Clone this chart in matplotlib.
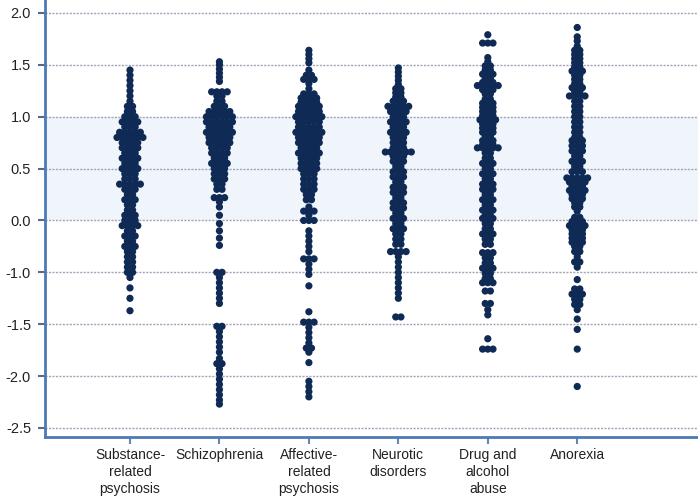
import numpy as np
import matplotlib
matplotlib.use("Agg")
import matplotlib.pyplot as plt

plt.rcParams['font.family'] = ['Liberation Sans Narrow', 'Liberation Sans', 'DejaVu Sans']

categories = ["Substance-\nrelated\npsychosis", "Schizophrenia", "Affective-\nrelated\npsychosis",
              "Neurotic\ndisorders", "Drug and\nalcohol\nabuse", "Anorexia"]

ytick_pos = [2.0, 1.5, 1.0, 0.5, 0.0, -0.5, -1.0, -1.5, -2.0]
ytick_labels = ["2.0", "1.5", "1.0", "0.5", "0.0", "-1.0", "-1.5", "-2.0", "-2.5"]

# Substance-related psychosis: value levels and number of dots side by side
sub_levels = [1.45, 1.40, 1.35, 1.30, 1.25, 1.20, 1.15, 1.10, 1.05, 1.00, 0.95, 0.90, 0.85, 0.80, 0.75,
              0.70, 0.65, 0.60, 0.55, 0.50, 0.45, 0.40, 0.35, 0.30, 0.25, 0.20, 0.15, 0.10, 0.05, 0.00,
              -0.05, -0.10, -0.15, -0.20, -0.25, -0.30, -0.35, -0.40, -0.45, -0.50, -0.55, -0.65, -0.75, -0.87]
sub_counts = [1, 1, 1, 1, 1, 1, 1, 2, 2, 3, 4, 3, 5, 6, 4,
              4, 3, 4, 3, 4, 3, 3, 5, 3, 2, 3, 2, 2, 3, 3,
              4, 2, 3, 2, 3, 2, 2, 2, 2, 2, 1, 1, 1, 1]

sch_levels = [1.53, 1.50, 1.46, 1.42, 1.38, 1.34, 1.24, 1.20, 1.15, 1.10, 1.05, 1.00, 0.95, 0.90, 0.85,
              0.80, 0.75, 0.70, 0.65, 0.60, 0.55, 0.50, 0.45, 0.40, 0.35, 0.30, 0.22, 0.18, 0.13, 0.05,
              -0.03, -0.10, -0.17, -0.24, -0.50, -0.55, -0.60, -0.65, -0.70, -0.75, -0.80, -1.02, -1.07,
              -1.12, -1.17, -1.22, -1.27, -1.33, -1.38, -1.43, -1.48, -1.53, -1.58, -1.63, -1.68, -1.73, -1.77]
sch_counts = [1, 1, 1, 1, 1, 1, 4, 2, 2, 3, 5, 6, 6, 5, 6,
              5, 5, 4, 4, 3, 4, 3, 3, 3, 2, 2, 3, 1, 1, 1,
              1, 1, 1, 1, 2, 1, 1, 1, 1, 1, 1, 2, 1,
              1, 1, 1, 1, 1, 2, 1, 1, 1, 1, 1, 1, 1, 1]

aff_levels = [1.64, 1.60, 1.56, 1.52, 1.45, 1.40, 1.36, 1.32, 1.27, 1.22, 1.18, 1.14, 1.10, 1.05, 1.00,
              0.95, 0.90, 0.85, 0.80, 0.75, 0.70, 0.65, 0.60, 0.55, 0.50, 0.45, 0.40, 0.35, 0.30, 0.25,
              0.20, 0.13, 0.09, 0.05, 0.00, -0.10, -0.15, -0.20, -0.25, -0.30, -0.37, -0.42, -0.47, -0.52,
              -0.63, -0.88, -0.98, -1.03, -1.08, -1.13, -1.18, -1.23, -1.27, -1.37, -1.55, -1.60, -1.65, -1.70]
aff_counts = [1, 1, 1, 1, 1, 2, 3, 1, 1, 3, 4, 4, 5, 5, 6,
              5, 5, 6, 5, 5, 4, 5, 4, 4, 4, 3, 3, 3, 3, 2,
              2, 1, 3, 1, 3, 1, 1, 1, 1, 1, 3, 1, 1, 1,
              1, 1, 3, 1, 1, 1, 1, 2, 1, 1, 1, 1, 1, 1]

neu_levels = [1.47, 1.43, 1.39, 1.35, 1.31, 1.27, 1.23, 1.19, 1.15, 1.10, 1.05, 1.00, 0.95, 0.90, 0.85,
              0.80, 0.75, 0.70, 0.66, 0.62, 0.57, 0.52, 0.47, 0.42, 0.37, 0.32, 0.27, 0.22, 0.17, 0.12,
              0.07, 0.02, -0.03, -0.08, -0.13, -0.18, -0.23, -0.30, -0.35, -0.40, -0.45, -0.50, -0.55,
              -0.60, -0.65, -0.70, -0.75, -0.93]
neu_counts = [1, 1, 1, 1, 1, 2, 2, 2, 3, 5, 4, 3, 4, 3, 4,
              3, 3, 3, 6, 3, 3, 2, 3, 3, 2, 3, 3, 2, 3, 3,
              2, 3, 2, 3, 2, 2, 2, 4, 1, 1, 1, 1, 1,
              1, 1, 1, 1, 2]

drg_levels = [1.79, 1.71, 1.57, 1.53, 1.49, 1.45, 1.41, 1.37, 1.33, 1.30, 1.26, 1.22, 1.17, 1.13, 1.09,
              1.05, 1.01, 0.97, 0.93, 0.89, 0.85, 0.81, 0.77, 0.73, 0.70, 0.65, 0.60, 0.55, 0.50, 0.45,
              0.40, 0.35, 0.30, 0.25, 0.20, 0.15, 0.10, 0.05, 0.02, -0.03, -0.08, -0.13, -0.18, -0.23,
              -0.31, -0.36, -0.41, -0.46, -0.51, -0.56, -0.60, -0.68, -0.80, -0.86, -0.91, -1.14, -1.24]
drg_counts = [1, 3, 1, 1, 2, 2, 3, 2, 3, 5, 3, 2, 2, 3, 3,
              3, 3, 4, 3, 3, 3, 2, 3, 3, 5, 2, 2, 3, 2, 3,
              2, 3, 3, 2, 3, 2, 3, 2, 3, 2, 2, 3, 2, 2,
              3, 2, 2, 3, 2, 2, 3, 2, 2, 1, 1, 1, 3]

ano_levels = [1.86, 1.77, 1.73, 1.68, 1.64, 1.60, 1.56, 1.52, 1.48, 1.44, 1.40, 1.36, 1.32, 1.28, 1.24,
              1.20, 1.15, 1.10, 1.05, 1.00, 0.95, 0.90, 0.85, 0.80, 0.77, 0.72, 0.67, 0.62, 0.57, 0.52,
              0.47, 0.41, 0.37, 0.33, 0.29, 0.25, 0.21, 0.17, 0.13, 0.09, 0.03, -0.01, -0.05, -0.09, -0.13,
              -0.17, -0.21, -0.25, -0.30, -0.35, -0.40, -0.45, -0.57, -0.66, -0.71, -0.76, -0.81, -0.86,
              -0.95, -1.05, -1.24, -1.60]
ano_counts = [1, 1, 1, 1, 2, 2, 2, 2, 2, 3, 2, 2, 2, 3, 2,
              4, 2, 2, 2, 2, 2, 2, 2, 2, 3, 3, 3, 2, 3, 2,
              3, 5, 4, 3, 4, 3, 3, 2, 2, 1, 2, 3, 4, 3, 3,
              3, 3, 2, 2, 1, 2, 1, 1, 2, 3, 2, 2, 1,
              1, 1, 1, 1]

series = [(sub_levels, sub_counts), (sch_levels, sch_counts), (aff_levels, aff_counts),
          (neu_levels, neu_counts), (drg_levels, drg_counts), (ano_levels, ano_counts)]

dot_color = '#0e2a55'
axis_blue = '#4d7ab5'
dx = 0.058

fig = plt.figure(figsize=(6.98, 5.01), dpi=100)
ax = fig.add_axes([45 / 698, 64 / 501, 653 / 698, 437 / 501])

ax.axhspan(0.0, 1.0, color='#eff5fb', zorder=0, lw=0)
for yp in ytick_pos:
    ax.axhline(yp, color='#a3a3b8', lw=1.0, ls=(0, (1.5, 1.0)), zorder=1)

for i, (levels, counts) in enumerate(series):
    xs, ys = [], []
    for v, n in zip(levels, counts):
        offs = (np.arange(n) - (n - 1) / 2.0) * dx
        xs.extend(i + 1 + offs)
        ys.extend([v] * n)
    ax.scatter(xs, ys, s=27, color=dot_color, edgecolors='none', zorder=3)

ax.set_xlim(0.05, 7.35)
ax.set_ylim(-2.087, 2.125)
ax.set_yticks(ytick_pos)
ax.set_yticklabels(ytick_labels)
ax.set_xticks(range(1, len(categories) + 1))
ax.set_xticklabels(categories, linespacing=1.25)

for side in ['top', 'right']:
    ax.spines[side].set_visible(False)
for side in ['left', 'bottom']:
    ax.spines[side].set_color(axis_blue)
    ax.spines[side].set_linewidth(2.0)

ax.tick_params(axis='y', length=5, width=1.5, color='#5a6a85', labelsize=10.5,
               labelcolor='#222222', pad=5)
ax.tick_params(axis='x', length=5, width=1.5, color='#6a84aa', labelsize=10,
               labelcolor='#222222', pad=3)

fig.savefig('out.png', dpi=100)
